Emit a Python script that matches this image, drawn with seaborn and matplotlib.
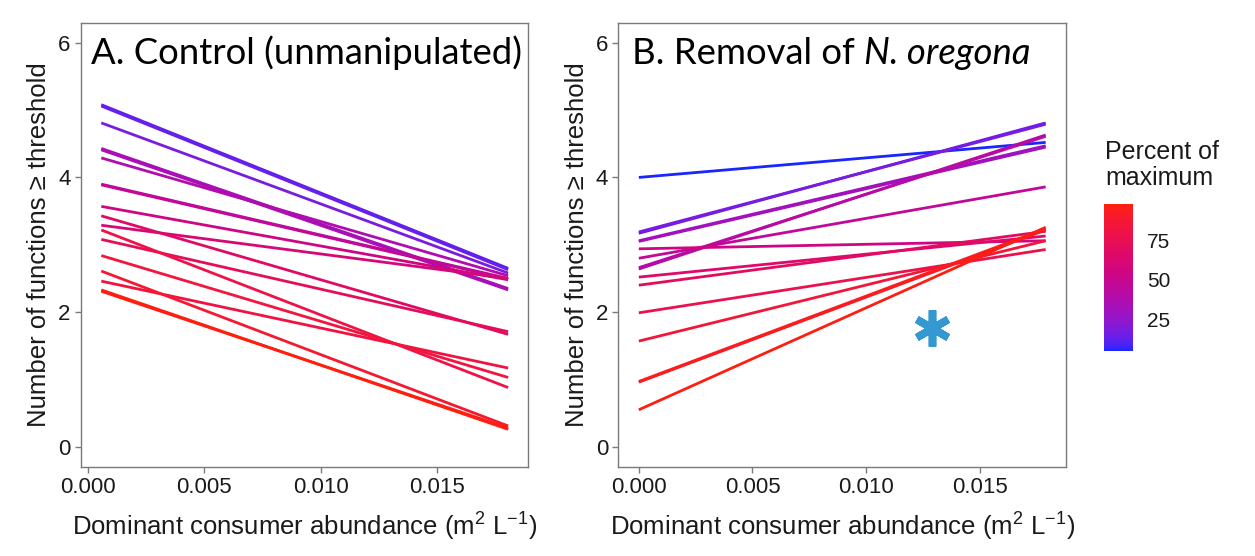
import numpy as np
import pandas as pd
import matplotlib
matplotlib.use("Agg")
import matplotlib.pyplot as plt
import seaborn as sns
from matplotlib.colors import ListedColormap, Normalize
from matplotlib.cm import ScalarMappable

# ---------------- data ----------------
# x-range of the fitted lines (m2 L-1)
left_x = [0.00059, 0.01804]
right_x = [0.0, 0.0179]

# A. Control: percent-of-maximum threshold, predicted value at low / high abundance
left_pct = [12, 14, 18, 33, 35, 38, 45, 47, 55, 60, 68, 72, 80, 84, 82, 88, 96, 98]
left_start = [5.08, 5.06, 4.81, 4.43, 4.41, 4.29, 3.90, 3.89, 3.57, 3.29, 3.43, 3.08, 3.22, 2.84, 2.46, 2.61, 2.31, 2.33]
left_end = [2.65, 2.63, 2.58, 2.35, 2.33, 2.54, 2.50, 2.49, 2.48, 2.50, 1.67, 1.71, 0.88, 1.03, 1.17, 0.31, 0.28, 0.26]

# B. Removal of N. oregona
right_pct = [5, 15, 17, 30, 32, 40, 42, 47, 55, 65, 70, 78, 85, 92, 94, 97]
right_start = [4.00, 3.17, 3.19, 3.06, 3.05, 2.64, 2.66, 2.80, 2.94, 2.52, 2.40, 1.99, 1.57, 0.96, 0.97, 0.55]
right_end = [4.52, 4.81, 4.79, 4.47, 4.45, 4.63, 4.61, 3.86, 3.06, 3.13, 3.20, 2.93, 3.06, 3.22, 3.24, 3.26]

y_ticks = [0, 2, 4, 6]
x_ticks = [0.0, 0.005, 0.010, 0.015]
cbar_ticks = [25, 50, 75]

titles = ["A. Control (unmanipulated)", "B. Removal of "]
title_italic = "N. oregona"
xlabel = "Dominant consumer abundance (m$^2$ L$^{-1}$)"
ylabel = "Number of functions \u2265 threshold"
cbar_title = "Percent of\nmaximum"
# significance marker in panel B
star_x, star_y = 0.0129, 1.77


# ---------------- colour scale: blue -> red interpolated in CIE Lab ----------------
_M = np.array([[0.4124, 0.3576, 0.1805],
               [0.2126, 0.7152, 0.0722],
               [0.0193, 0.1192, 0.9505]])
_W = np.array([0.95047, 1.0, 1.08883])


def srgb_to_lab(c):
    c = np.asarray(c, float)
    lin = np.where(c <= 0.04045, c / 12.92, ((c + 0.055) / 1.055) ** 2.4)
    t = (_M @ lin) / _W
    d = 6 / 29
    f = np.where(t > d ** 3, np.cbrt(t), t / (3 * d * d) + 4 / 29)
    return np.array([116 * f[1] - 16, 500 * (f[0] - f[1]), 200 * (f[1] - f[2])])


def lab_to_srgb(lab):
    L, a, b = lab
    fy = (L + 16) / 116
    fx = fy + a / 500
    fz = fy - b / 200
    d = 6 / 29
    finv = lambda f: np.where(f > d, f ** 3, 3 * d * d * (f - 4 / 29))
    xyz = _W * np.array([finv(fx), finv(fy), finv(fz)])
    lin = np.linalg.inv(_M) @ xyz
    lin = np.clip(lin, 0, 1)
    s = np.where(lin <= 0.0031308, 12.92 * lin, 1.055 * lin ** (1 / 2.4) - 0.055)
    return np.clip(s, 0, 1)


lab_lo = srgb_to_lab([0.1, 0.15, 1.0])
lab_hi = srgb_to_lab([1.0, 0.12, 0.05])
cols = [lab_to_srgb(lab_lo + (lab_hi - lab_lo) * t) for t in np.linspace(0, 1, 256)]
cmap = ListedColormap(cols)
vmin = min(left_pct + right_pct)
vmax = max(left_pct + right_pct)
norm = Normalize(vmin=vmin, vmax=vmax)

# ---------------- figure ----------------
sns.set_theme(style="white")
plt.rcParams["font.family"] = ["Liberation Sans", "DejaVu Sans"]
plt.rcParams["mathtext.fontset"] = "custom"
plt.rcParams["mathtext.rm"] = "Liberation Sans"
plt.rcParams["mathtext.it"] = "Liberation Sans:italic"
plt.rcParams["mathtext.default"] = "regular"

fig = plt.figure(figsize=(12.55, 5.56), dpi=100)
fig.patch.set_facecolor("white")
axL = fig.add_axes([0.0645, 0.160, 0.3566, 0.7995])
axR = fig.add_axes([0.4928, 0.160, 0.3566, 0.7995])
cax = fig.add_axes([0.8797, 0.3687, 0.0231, 0.2644])

frame_col = "#7a7a7a"
text_col = "#1a1a1a"


def make_df(xr, pct, y0, y1):
    rows = []
    for i, (p, a, b) in enumerate(zip(pct, y0, y1)):
        rows.append({"id": i, "pct": p, "x": xr[0], "y": a})
        rows.append({"id": i, "pct": p, "x": xr[1], "y": b})
    return pd.DataFrame(rows)


panels = [
    (axL, left_x, left_pct, left_start, left_end),
    (axR, right_x, right_pct, right_start, right_end),
]

for ax, xr, pct, y0, y1 in panels:
    df = make_df(xr, pct, y0, y1)
    sns.lineplot(data=df, x="x", y="y", hue="pct", units="id", estimator=None,
                 palette=cmap, hue_norm=norm, legend=False, lw=2.0, ax=ax,
                 solid_capstyle="butt")
    pad = 0.05 * (xr[1] - xr[0])
    ax.set_xlim(xr[0] - pad, xr[1] + pad)
    ax.set_ylim(-0.3, 6.3)
    ax.set_xticks(x_ticks)
    ax.set_xticklabels([f"{v:.3f}" for v in x_ticks])
    ax.set_yticks(y_ticks)
    ax.set_yticklabels([str(v) for v in y_ticks])
    ax.tick_params(axis="both", bottom=True, left=True, direction="out", length=4.5,
                   width=1, color=frame_col, labelsize=16, labelcolor=text_col, pad=3)
    for sp in ax.spines.values():
        sp.set_visible(True)
        sp.set_color(frame_col)
        sp.set_linewidth(1.0)
    ax.set_xlabel(xlabel, fontsize=18.5, color=text_col, labelpad=9)
    ax.set_ylabel(ylabel, fontsize=18.5, color=text_col, labelpad=5)
    ax.set_facecolor("white")

# panel titles
axL.text(0.022, 0.9066, titles[0], transform=axL.transAxes, fontsize=26.3,
         family="Lato", va="baseline", ha="left", color="black")
tB = axR.text(0.030, 0.9066, titles[1].rstrip(), transform=axR.transAxes, fontsize=26.3,
              family="Lato", va="baseline", ha="left", color="black")
axR.annotate(title_italic, xy=(1, 0), xycoords=tB, xytext=(6.5, 0), textcoords="offset points",
             fontsize=26.3, family="Lato", fontstyle="italic", va="bottom", ha="left", color="black")

# significance asterisk
axR.plot([star_x], [star_y], marker=(6, 2, 0), ms=26, mew=5.5, color="#3399d0", ls="none")

# colour bar
sm = ScalarMappable(norm=norm, cmap=cmap)
cb = fig.colorbar(sm, cax=cax, ticks=cbar_ticks)
cb.outline.set_visible(False)
cax.tick_params(direction="in", color="white", length=5, width=1, left=True, right=True,
                labelsize=15, labelcolor=text_col, pad=10)
fig.text(1105 / 1255, 1 - 140 / 556, cbar_title, fontsize=18, color=text_col,
         va="top", ha="left", linespacing=1.1)

fig.savefig("out.png", dpi=100, facecolor="white")
